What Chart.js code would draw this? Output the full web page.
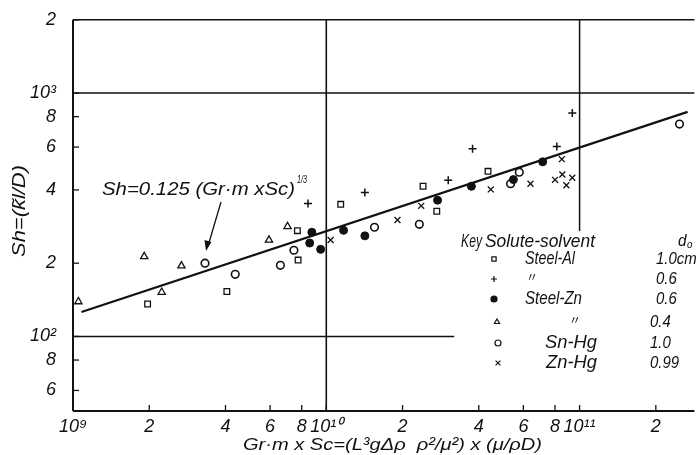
<!DOCTYPE html>
<html>
<head>
<meta charset="utf-8">
<script src="https://cdn.jsdelivr.net/npm/chart.js@4.4.0/dist/chart.umd.min.js"></script>
<style>
  html, body { margin: 0; padding: 0; background: #fff; }
</style>
</head>
<body>
<canvas id="shChart" width="700" height="455"></canvas>
<script>
// Axis ticks (log-log paper)
const xTicks = [1e9, 2e9, 4e9, 6e9, 8e9, 1e10, 2e10, 4e10, 6e10, 8e10, 1e11, 2e11];
const xTickLabels = ['10⁹', '2', '4', '6', '8', '10¹⁰', '2', '4', '6', '8', '10¹¹', '2'];
const yTicks = [60, 80, 100, 200, 400, 600, 800, 1000, 2000];
const yTickLabels = ['6', '8', '10²', '2', '4', '6', '8', '10³', '2'];

// Steel-Al, d0 = 1.0 cm (open squares)
const steelAlX = [1.97e9, 4.05e9, 7.69e9, 7.74e9, 1.14e10, 2.41e10, 2.73e10, 4.35e10];
const steelAlY = [136, 153, 272, 206, 349, 414, 327, 477];

// Steel-Al, d0 = 0.6 (plus)
const steelAl06X = [8.47e9, 1.42e10, 3.03e10, 3.78e10, 8.13e10, 9.36e10];
const steelAl06Y = [352, 390, 438, 591, 603, 828];

// Steel-Zn, d0 = 0.6 (filled circles)
const steelZnX = [8.6e9, 8.77e9, 9.5e9, 1.17e10, 1.42e10, 2.75e10, 3.74e10, 5.48e10, 7.15e10];
const steelZnY = [242, 268, 228, 273, 259, 363, 414, 441, 522];

// Steel-Zn, d0 = 0.4 (triangles)
const steelZn04X = [1.05e9, 1.91e9, 2.24e9, 2.68e9, 5.94e9, 7.03e9];
const steelZn04Y = [139, 213, 152, 195, 249, 283];

// Sn-Hg, d0 = 1.0 (open circles)
const snHgX = [3.32e9, 4.37e9, 6.59e9, 7.45e9, 1.55e10, 2.33e10, 5.34e10, 5.78e10, 2.48e11];
const snHgY = [200, 180, 196, 226, 281, 289, 424, 473, 746];

// Zn-Hg, d0 = 0.99 (crosses)
const znHgX = [1.04e10, 1.91e10, 2.37e10, 4.46e10, 6.4e10, 8.0e10, 8.51e10, 8.55e10, 8.87e10, 9.36e10];
const znHgY = [249, 301, 344, 402, 424, 440, 535, 463, 418, 449];

// Correlation line Sh = 0.125 (Gr.m x Sc)^1/3, end points
const fitX = [1.08e9, 2.67e11];
const fitY = [126, 837];

// Legend text
const legendNames = ['Steel-Al', '〃', 'Steel-Zn', '〃', 'Sn-Hg', 'Zn-Hg'];
const legendD = ['1.0cm', '0.6', '0.6', '0.4', '1.0', '0.99'];
const legendStyles = ['rect', 'cross', 'circle', 'triangle', 'circle', 'crossRot'];
const legendFilled = [false, false, true, false, false, false];

const INK = '#111';
const FONT = '"Liberation Sans", Arial, sans-serif';

function pts(xs, ys) {
    return xs.map((x, i) => ({ x: x, y: ys[i] }));
}

function line(ctx, x1, y1, x2, y2, w) {
    ctx.lineWidth = w;
    ctx.beginPath();
    ctx.moveTo(x1, y1);
    ctx.lineTo(x2, y2);
    ctx.stroke();
}

// draw text squeezed/stretched to a given width (the lettering is narrow)
function fitText(ctx, s, left, cy, w, size) {
    ctx.save();
    ctx.font = 'italic ' + size + 'px ' + FONT;
    ctx.textAlign = 'left';
    ctx.textBaseline = 'middle';
    const m = ctx.measureText(s).width;
    ctx.translate(left, cy);
    ctx.scale(w / m, 1);
    ctx.fillText(s, 0, 0);
    ctx.restore();
}

// narrow lettering with a fixed squeeze factor
function narrowText(ctx, s, left, cy, size, sx) {
    ctx.save();
    ctx.font = 'italic ' + size + 'px ' + FONT;
    ctx.textAlign = 'left';
    ctx.textBaseline = 'middle';
    ctx.translate(left, cy);
    ctx.scale(sx, 1);
    ctx.fillText(s, 0, 0);
    ctx.restore();
}

const paperPlugin = {
    id: 'paper',
    beforeDatasetsDraw(chart) {
        const { ctx, chartArea: a, scales: { x, y } } = chart;
        ctx.save();
        ctx.strokeStyle = INK;
        // frame
        line(ctx, a.left, a.top, a.right, a.top, 1.6);
        line(ctx, a.left, a.top, a.left, a.bottom, 2);
        line(ctx, a.left, a.bottom, a.right, a.bottom, 2);
        // decade lines
        const y1000 = y.getPixelForValue(1000);
        line(ctx, a.left, y1000, a.right, y1000, 1.6);
        const x1e10 = x.getPixelForValue(1e10);
        line(ctx, x1e10, a.top, x1e10, a.bottom, 1.6);
        const y100 = y.getPixelForValue(100);
        line(ctx, a.left, y100, x.getPixelForValue(3.2e10), y100, 1.5);
        const x1e11 = x.getPixelForValue(1e11);
        line(ctx, x1e11, a.top, x1e11, y.getPixelForValue(271), 1.5);
        // short inward ticks
        xTicks.forEach(v => {
            const px = x.getPixelForValue(v);
            line(ctx, px, a.bottom, px, a.bottom - 6, 1.3);
        });
        yTicks.forEach(v => {
            const py = y.getPixelForValue(v);
            line(ctx, a.left, py, a.left + 6, py, 1.3);
        });
        ctx.restore();
    },
    afterDraw(chart) {
        const { ctx } = chart;
        ctx.save();
        ctx.fillStyle = INK;
        ctx.strokeStyle = INK;

        // axis titles
        fitText(ctx, 'Gr·m x Sc=(L³gΔρ  ρ²/μ²) x (μ/ρD)', 243, 445, 299, 17);
        ctx.save();
        ctx.translate(20, 257);
        ctx.rotate(-Math.PI / 2);
        fitText(ctx, 'Sh=(k̃l/D)', 0, 0, 92, 18);
        ctx.restore();

        // correlation label with arrow
        fitText(ctx, 'Sh=0.125 (Gr·m xSc)', 102, 190, 193, 18);
        fitText(ctx, '1/3', 297, 180, 10, 11);
        line(ctx, 221, 202, 208, 246, 1.3);
        ctx.beginPath();
        ctx.moveTo(206, 251);
        ctx.lineTo(204.5, 240);
        ctx.lineTo(211.5, 242);
        ctx.closePath();
        ctx.fill();

        // key
        fitText(ctx, 'Key', 461, 242, 21, 18);
        fitText(ctx, 'Solute-solvent', 485, 242, 110, 18);
        narrowText(ctx, 'd', 678, 241, 17, 0.9);
        narrowText(ctx, 'o', 687, 245, 11, 0.9);

        const rowY = [259, 279, 299, 322, 343, 363];
        const markX = [494, 494, 494, 497, 498, 498];
        const nameX = [525, 526, 525, 569, 545, 546];
        const nameW = [50, 0, 57, 0, 52, 51];
        const dX = [656, 656, 656, 650, 650, 650];
        legendNames.forEach((name, i) => {
            ctx.fillStyle = legendFilled[i] ? INK : '#fff';
            ctx.lineWidth = 1.2;
            Chart.helpers.drawPoint(ctx, {
                pointStyle: legendStyles[i],
                radius: legendStyles[i] === 'crossRot' ? 3.4 : 3,
                rotation: 0,
                borderWidth: 1.2
            }, markX[i], rowY[i]);
            ctx.fillStyle = INK;
            if (name === '〃') {
                ctx.font = '12px "Noto Sans CJK JP", sans-serif';
                ctx.textAlign = 'left';
                ctx.textBaseline = 'middle';
                ctx.fillText(name, nameX[i], rowY[i] - 2);
            } else {
                fitText(ctx, name, nameX[i], rowY[i], nameW[i], 18);
            }
            narrowText(ctx, legendD[i], dX[i], rowY[i], 17, 0.88);
        });
        ctx.restore();
    }
};

const hollow = { backgroundColor: '#fff', borderColor: INK, borderWidth: 1.3 };

new Chart(document.getElementById('shChart').getContext('2d'), {
    type: 'scatter',
    data: {
        datasets: [
            { label: 'fit', data: pts(fitX, fitY), showLine: true, pointRadius: 0,
              borderColor: INK, borderWidth: 2.2 },
            Object.assign({ label: 'Steel-Al 1.0cm', data: pts(steelAlX, steelAlY),
              pointStyle: 'rect', pointRadius: 4 }, hollow),
            { label: 'Steel-Al 0.6', data: pts(steelAl06X, steelAl06Y),
              pointStyle: 'cross', pointRadius: 4, borderColor: INK, borderWidth: 1.5 },
            { label: 'Steel-Zn 0.6', data: pts(steelZnX, steelZnY),
              pointStyle: 'circle', pointRadius: 4, backgroundColor: INK, borderColor: INK, borderWidth: 1 },
            Object.assign({ label: 'Steel-Zn 0.4', data: pts(steelZn04X, steelZn04Y),
              pointStyle: 'triangle', pointRadius: 4.2 }, hollow),
            Object.assign({ label: 'Sn-Hg 1.0', data: pts(snHgX, snHgY),
              pointStyle: 'circle', pointRadius: 3.8 }, hollow, { borderWidth: 1.6 }),
            { label: 'Zn-Hg 0.99', data: pts(znHgX, znHgY),
              pointStyle: 'crossRot', pointRadius: 4.2, borderColor: INK, borderWidth: 1.3 }
        ]
    },
    options: {
        responsive: false,
        animation: false,
        layout: { padding: { top: 14, right: 0, left: 0, bottom: 0 } },
        plugins: { legend: { display: false }, tooltip: { enabled: false } },
        scales: {
            x: {
                type: 'logarithmic',
                min: 1e9,
                max: 2.84e11,
                grid: { display: false },
                border: { display: false },
                afterBuildTicks: (s) => { s.ticks = xTicks.map(v => ({ value: v })); },
                afterFit: (s) => { s.height = 44; },
                ticks: {
                    autoSkip: false,
                    maxRotation: 0,
                    padding: -1,
                    color: INK,
                    font: { family: FONT, size: 18, style: 'italic', lineHeight: 1 },
                    callback: (v, i) => xTickLabels[i]
                }
            },
            y: {
                type: 'logarithmic',
                min: 49.4,
                max: 2000,
                grid: { display: false },
                border: { display: false },
                afterBuildTicks: (s) => { s.ticks = yTicks.map(v => ({ value: v })); },
                afterFit: (s) => { s.width = 73; },
                ticks: {
                    autoSkip: false,
                    padding: 9,
                    color: INK,
                    font: { family: FONT, size: 18, style: 'italic' },
                    callback: (v, i) => yTickLabels[i]
                }
            }
        }
    },
    plugins: [paperPlugin]
});
</script>
</body>
</html>
